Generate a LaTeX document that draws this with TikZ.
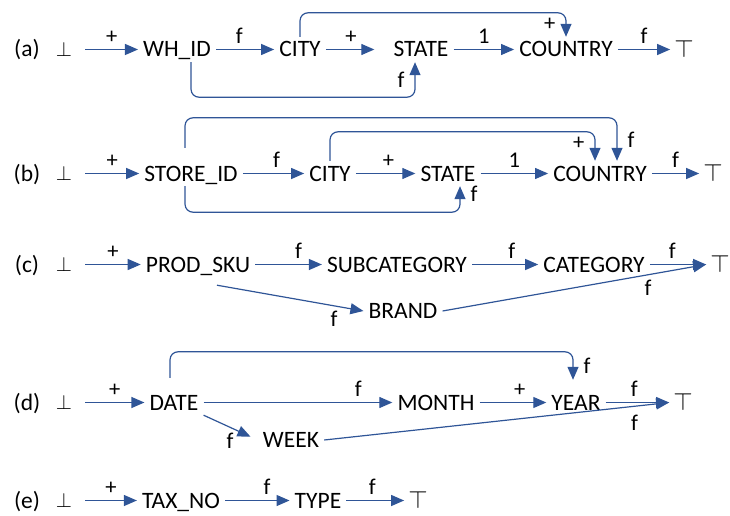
\documentclass[tikz,border=0pt]{standalone}
\usepackage{fontspec}
\setmainfont{Carlito}
\usetikzlibrary{arrows.meta}
\definecolor{linkblue}{RGB}{47,85,151}

\tikzset{
  txt/.style={font=\fontsize{23.5}{24}\selectfont, text height=15pt, text depth=0pt, inner xsep=5pt, inner ysep=5pt},
  sym/.style={font=\fontsize{21}{21}\selectfont, text height=14pt, text depth=0pt, inner xsep=5pt, inner ysep=5pt},
  topsym/.style={sym, font=\fontsize{24.88}{25}\selectfont, text height=16pt, inner xsep=4pt},
  bot/.style={sym, inner xsep=13pt},
  arr/.style={draw=linkblue, line width=1.2pt, -{Triangle[length=13pt,width=11pt]}},
  tag/.style={font=\fontsize{22.5}{23}\selectfont, inner sep=2pt, text=black},
}

\begin{document}
\begin{tikzpicture}[x=1pt,y=-1pt]
\useasboundingbox (0,0) rectangle (730,516);

% (a)
\node[txt] (whA) at (177,49.5) {WH\_ID};
\node[txt] (cityA) at (300,49.5) {CITY};
\node[txt] (stateA) at (421,49.5) {STATE};
\node[txt] (countryA) at (566,49.5) {COUNTRY};
\node[topsym] (topA) at (684,49.5) {$\top$};
\draw[arr] (whA) -- node[tag,above=3pt,pos=0.4] {f} (cityA);
\draw[arr,shorten >=14pt] (cityA) -- node[tag,above=3pt,pos=0.4] {+} (stateA);
\draw[arr] (stateA) -- node[tag,above=3pt] {1} (countryA);
\draw[arr] (countryA) -- node[tag,above=3pt] {f} (topA);
\draw[arr,rounded corners=8pt] (cityA.north) -- ++(0,-24) -| node[tag,left=8pt,pos=0.75] {+} (countryA.north);
\draw[arr,rounded corners=8pt] ([xshift=14pt]whA.south) -- ++(0,35) -| node[tag,left=8pt,pos=0.75] {f} ([xshift=-6pt]stateA.south);

% (b)
\node[txt] (storeB) at (191,173.5) {STORE\_ID};
\node[txt] (cityB) at (330,173.5) {CITY};
\node[txt] (stateB) at (448,173.5) {STATE};
\node[txt] (countryB) at (600,173.5) {COUNTRY};
\node[topsym] (topB) at (713,173.5) {$\top$};
\draw[arr] (storeB) -- node[tag,above=3pt,pos=0.55] {f} (cityB);
\draw[arr] (cityB) -- node[tag,above=3pt,pos=0.55] {+} (stateB);
\draw[arr] (stateB) -- node[tag,above=3pt] {1} (countryB);
\draw[arr] (countryB) -- node[tag,above=3pt] {f} (topB);
\draw[arr,rounded corners=8pt] ([xshift=-6pt,yshift=13pt]storeB.north) -- ++(0,-30) -| node[tag,right=8pt,pos=0.75] {f} ([xshift=17pt]countryB.north);
\draw[arr,rounded corners=8pt] (cityB.north) -- ++(0,-29) -| node[tag,left=8pt,pos=0.7] {+} ([xshift=-5pt]countryB.north);
\draw[arr,rounded corners=8pt] ([xshift=-6pt]storeB.south) -- ++(0,26) -| node[tag,right=8pt,pos=0.85] {f} ([xshift=12pt]stateB.south);

% (c)
\node[txt] (prodC) at (198,264.5) {PROD\_SKU};
\node[txt] (subC) at (397,264.5) {SUBCATEGORY};
\node[txt] (catC) at (594,264.5) {CATEGORY};
\node[topsym] (topC) at (720,264.5) {$\top$};
\node[txt] (brandC) at (403,311) {BRAND};
\draw[arr] (prodC) -- node[tag,above=3pt,pos=0.65] {f} (subC);
\draw[arr] (subC) -- node[tag,above=3pt,pos=0.6] {f} (catC);
\draw[arr] (catC) -- node[tag,above=3pt,pos=0.4] {f} (topC);
\draw[arr] ([xshift=19pt,yshift=-8pt]prodC.south) -- node[tag,below=3pt,pos=0.8] {f} (brandC.west);
\draw[arr] (brandC.east) -- node[tag,below=3pt,pos=0.78] {f} (topC.west);

% (d)
\node[txt] (dateD) at (174,402.5) {DATE};
\node[txt] (monthD) at (436,402.5) {MONTH};
\node[txt] (yearD) at (576,402.5) {YEAR};
\node[topsym] (topD) at (683,402.5) {$\top$};
\node[txt] (weekD) at (291,440) {WEEK};
\draw[arr] (dateD) -- node[tag,above=3pt,pos=0.82] {f} (monthD);
\draw[arr] (monthD) -- node[tag,above=3pt,pos=0.6] {+} (yearD);
\draw[arr] (yearD) -- node[tag,above=3pt,pos=0.45] {f} (topD);
\draw[arr,shorten >=8pt] (dateD.south east) -- node[tag,below left,pos=0.6] {f} (weekD.west);
\draw[arr] (weekD.east) -- node[tag,below=6pt,pos=0.9] {f} (topD.west);
\draw[arr,rounded corners=8pt] ([xshift=-4pt,yshift=12pt]dateD.north) -- ++(0,-26) -| node[tag,right=8pt,pos=0.75] {f} ([xshift=-3pt,yshift=10pt]yearD.north);

% (e)
\node[txt] (taxE) at (181,500.5) {TAX\_NO};
\node[txt] (typeE) at (318,500.5) {TYPE};
\node[topsym] (topE) at (418,500.5) {$\top$};
\draw[arr] (taxE) -- node[tag,above=3pt,pos=0.65] {f} (typeE);
\draw[arr] (typeE) -- node[tag,above=3pt,pos=0.45] {f} (topE);

% row labels and start arrows
\foreach \row/\y/\first in {a/49.5/whA, b/173.5/storeB, c/264.5/prodC, d/402.5/dateD, e/500.5/taxE} {
  \node[txt] (lab\row) at (27,\y) {(\row)};
  \node[bot] (bot\row) at (64,\y) {$\perp$};
  \draw[arr] (bot\row) -- node[tag,above=3pt] {+} (\first);
}
\end{tikzpicture}
\end{document}
